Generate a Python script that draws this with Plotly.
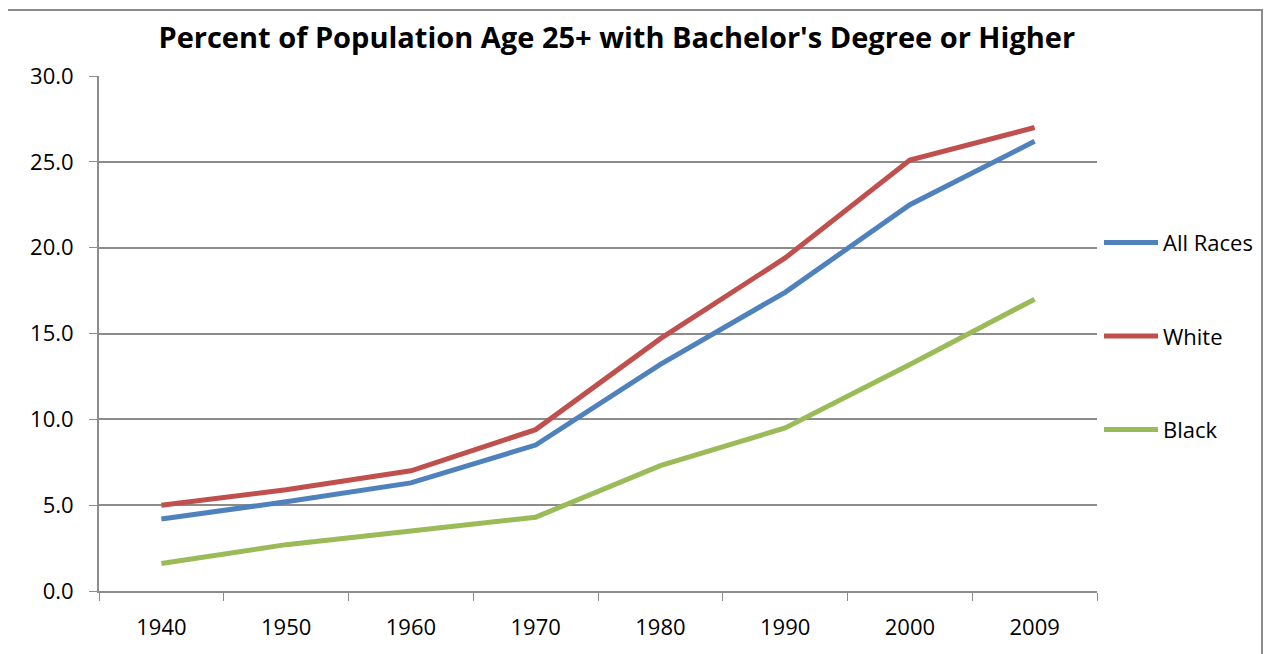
import plotly.graph_objects as go

years = ["1940", "1950", "1960", "1970", "1980", "1990", "2000", "2009"]
all_races = [4.2, 5.2, 6.3, 8.5, 13.2, 17.4, 22.5, 26.2]
white = [5.0, 5.9, 7.0, 9.4, 14.7, 19.4, 25.1, 27.0]
black = [1.6, 2.7, 3.5, 4.3, 7.3, 9.5, 13.2, 17.0]

series = [("All Races", all_races, "#4F81BD"), ("White", white, "#C0504D"), ("Black", black, "#9BBB59")]

fig = go.Figure()
for i, (name, vals, color) in enumerate(series):
    fig.add_trace(go.Scatter(x=years, y=vals, name=name, mode="lines",
                             line=dict(color=color, width=5), legendgroup=str(i)))

fig.update_layout(
    width=1271, height=654,
    margin=dict(l=91, r=182, t=68, b=71, autoexpand=False),
    paper_bgcolor="white", plot_bgcolor="white",
    font=dict(family="Open Sans, Liberation Sans, sans-serif", size=22, color="black"),
    title=dict(text="<b>Percent of Population Age 25+ with Bachelor's Degree or Higher</b>",
               x=0.479, xanchor="center", y=0.954, yanchor="middle",
               font=dict(size=29, color="black")),
    legend=dict(x=1.002, xanchor="left", y=0.495, yanchor="middle", itemwidth=54,
                tracegroupgap=62, font=dict(size=22), bgcolor="rgba(0,0,0,0)"),
    showlegend=True,
)
fig.update_xaxes(type="category", range=[-0.5, 7.5], tickson="boundaries", ticks="outside", ticklen=8,
                 tickcolor="#8c8c8c", showline=True, linecolor="#8c8c8c", linewidth=2,
                 showgrid=False, tickfont=dict(size=22), ticklabelstandoff=16, automargin=False)
fig.update_yaxes(range=[0, 30], dtick=5, tickformat=".1f", ticks="outside", ticklen=8,
                 tickcolor="#8c8c8c", showline=True, linecolor="#8c8c8c", linewidth=2,
                 showgrid=True, gridcolor="#8c8c8c", gridwidth=1.5, zeroline=False,
                 tickfont=dict(size=22), ticklabelstandoff=11, automargin=False)
fig.add_shape(type="rect", xref="paper", yref="paper",
              x0=-92/998, x1=(1262-99)/998, y0=-0.2, y1=1 + 66/515,
              line=dict(color="#8c8c8c", width=2), fillcolor="rgba(0,0,0,0)", layer="below")
fig.write_html("out.html")
